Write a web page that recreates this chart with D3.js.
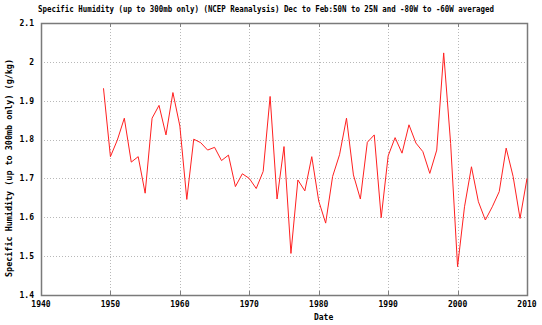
<!DOCTYPE html>
<html>
<head>
<meta charset="utf-8">
<script src="https://cdn.jsdelivr.net/npm/d3@7"></script>
<style>
  html, body { margin: 0; padding: 0; background: #fff; }
  svg { display: block; }
  text { font-family: "DejaVu Sans Mono", monospace; font-weight: bold; fill: #000; }
</style>
</head>
<body>
<svg id="chart" width="542" height="325"></svg>
<script>
// Winter (Dec-Feb) specific humidity, 50N-25N / 80W-60W, one value per year
const years = d3.range(1949, 2011);
const humidity = [
  1.932, 1.756, 1.799, 1.855, 1.742, 1.756, 1.662, 1.855, 1.888, 1.812,
  1.921, 1.835, 1.646, 1.801, 1.792, 1.773, 1.780, 1.746, 1.760, 1.679,
  1.712, 1.700, 1.674, 1.718, 1.911, 1.647, 1.782, 1.507, 1.696, 1.668,
  1.756, 1.642, 1.585, 1.705, 1.761, 1.855, 1.709, 1.647, 1.793, 1.812,
  1.599, 1.758, 1.805, 1.765, 1.838, 1.791, 1.769, 1.713, 1.773, 2.023,
  1.790, 1.473, 1.627, 1.730, 1.640, 1.593, 1.627, 1.666, 1.778, 1.705,
  1.597, 1.700
];
const xTicks = [1940, 1950, 1960, 1970, 1980, 1990, 2000, 2010];
const yTicks = [1.4, 1.5, 1.6, 1.7, 1.8, 1.9, 2.0, 2.1];

const titleText = "Specific Humidity (up to 300mb only) (NCEP Reanalysis) Dec to Feb:50N to 25N and -80W to -60W averaged";
const yTitle = "Specific Humidity (up to 300mb only) (g/kg)";
const xTitle = "Date";

const svg = d3.select("#chart");
const plotL = 41, plotR = 527, plotT = 23, plotB = 295;

const x = d3.scaleLinear().domain([1940, 2010]).range([plotL, plotR]);
const y = d3.scaleLinear().domain([1.4, 2.1]).range([plotB, plotT]);

// dotted grid
svg.append("g").selectAll("line")
  .data(xTicks.slice(1, -1)).join("line")
  .attr("x1", d => Math.round(x(d)) + 0.5).attr("x2", d => Math.round(x(d)) + 0.5)
  .attr("y1", plotT).attr("y2", plotB)
  .attr("stroke", "#b8b8b8").attr("stroke-dasharray", "1,2");
svg.append("g").selectAll("line")
  .data(yTicks.slice(1, -1)).join("line")
  .attr("x1", plotL).attr("x2", plotR)
  .attr("y1", d => Math.round(y(d)) + 0.5).attr("y2", d => Math.round(y(d)) + 0.5)
  .attr("stroke", "#b8b8b8").attr("stroke-dasharray", "1,2");

// short ticks along the top and bottom edges
const tickG = svg.append("g").attr("stroke", "#808080");
xTicks.slice(1, -1).forEach(t => {
  const tx = Math.round(x(t)) + 0.5;
  tickG.append("line").attr("x1", tx).attr("x2", tx).attr("y1", plotT).attr("y2", plotT + 4);
  tickG.append("line").attr("x1", tx).attr("x2", tx).attr("y1", plotB - 4).attr("y2", plotB);
});

// frame
svg.append("rect")
  .attr("x", plotL + 0.5).attr("y", plotT + 0.5)
  .attr("width", plotR - plotL).attr("height", plotB - plotT)
  .attr("fill", "none").attr("stroke", "#7a7a7a").attr("stroke-width", 1.5);

// data line
const line = d3.line().x((d, i) => x(years[i])).y(d => y(d));
svg.append("path")
  .datum(humidity)
  .attr("d", line)
  .attr("fill", "none")
  .attr("stroke", "#ff2020")
  .attr("stroke-width", 1);

// y tick labels
svg.append("g").selectAll("text")
  .data(yTicks).join("text")
  .attr("x", 34).attr("y", d => y(d))
  .attr("dy", "0.35em")
  .attr("text-anchor", "end")
  .attr("font-size", 8)
  .text(d => d3.format("~g")(+d.toFixed(1)));

// x tick labels
svg.append("g").selectAll("text")
  .data(xTicks).join("text")
  .attr("x", d => x(d)).attr("y", 307)
  .attr("text-anchor", "middle")
  .attr("font-size", 8)
  .text(d => d);

// titles
svg.append("text")
  .attr("x", 38).attr("y", 12)
  .attr("font-size", 8)
  .attr("textLength", 456).attr("lengthAdjust", "spacingAndGlyphs")
  .text(titleText);

svg.append("text")
  .attr("x", x(1980.7)).attr("y", 320)
  .attr("text-anchor", "middle")
  .attr("font-size", 8)
  .text(xTitle);

svg.append("text")
  .attr("transform", "translate(12,168) rotate(-90)")
  .attr("text-anchor", "middle")
  .attr("font-size", 8)
  .attr("textLength", 218).attr("lengthAdjust", "spacingAndGlyphs")
  .text(yTitle);
</script>
</body>
</html>
